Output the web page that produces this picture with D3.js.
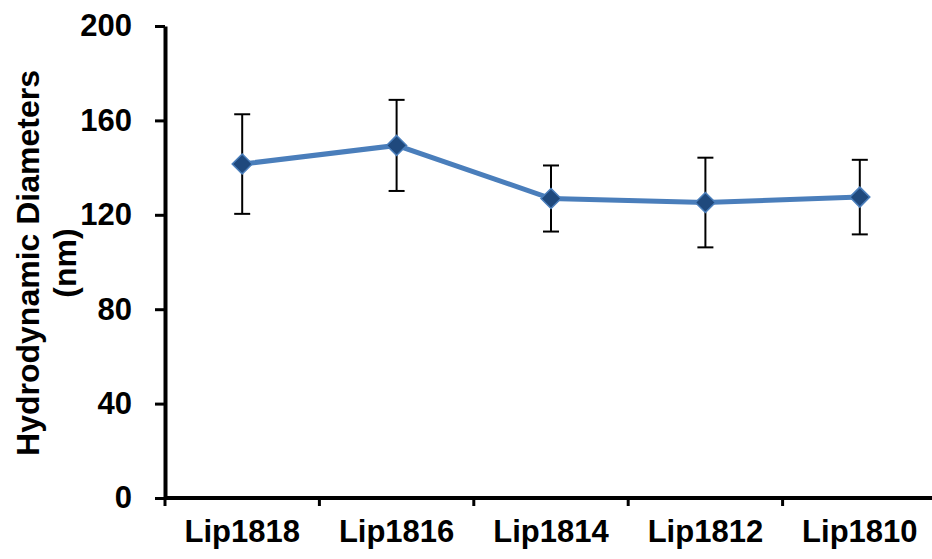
<!DOCTYPE html>
<html>
<head>
<meta charset="utf-8">
<script src="https://cdn.jsdelivr.net/npm/d3@7"></script>
<style>
  body { margin: 0; background: #fff; }
  svg { display: block; font-family: "Liberation Sans", Arial, sans-serif; }
</style>
</head>
<body>
<script>
const width = 932
const height = 559
const margin = ({top: 26, right: -5, bottom: 60, left: 165})

const categories = ["Lip1818", "Lip1816", "Lip1814", "Lip1812", "Lip1810"]
const means = [141.5, 149.4, 126.9, 125.2, 127.5]
const errors = [21.1, 19.3, 14.0, 19.0, 15.8]
const yTicks = [0, 40, 80, 120, 160, 200]

const lineColor = "#4a7ebb"
const markerFill = "#1f497d"

// scales
const x = d3.scaleBand()
    .domain(categories)
    .range([margin.left, width - margin.right])

const y = d3.scaleLinear()
    .domain([0, 200])
    .range([height - margin.bottom - 1, margin.top])

const cx = d => x(d) + x.bandwidth() / 2

const svg = d3.select("body").append("svg")
    .attr("width", width)
    .attr("height", height)

// x axis with ticks between categories
const xAxis = svg.append("g")
    .attr("transform", `translate(0,${y(0)})`)
    .call(d3.axisBottom(x).tickSize(0).tickPadding(22))
xAxis.select(".domain").attr("stroke-width", 4).attr("d", `M${margin.left},0H${width}`)
xAxis.selectAll("text")
    .attr("font-size", 31).attr("font-weight", "bold").attr("fill", "#000")

xAxis.selectAll(".sep")
    .data(categories)
    .join("line")
      .attr("class", "sep")
      .attr("x1", d => x(d)).attr("x2", d => x(d))
      .attr("y1", 0).attr("y2", 8)
      .attr("stroke", "#000").attr("stroke-width", 3)

// y axis
const yAxis = svg.append("g")
    .attr("transform", `translate(${margin.left},0)`)
    .call(d3.axisLeft(y).tickValues(yTicks).tickSize(10).tickSizeOuter(0).tickPadding(23))
yAxis.select(".domain").attr("stroke-width", 4)
yAxis.selectAll(".tick line").attr("stroke-width", 3)
yAxis.selectAll("text")
    .attr("font-size", 31).attr("font-weight", "bold").attr("fill", "#000")

// y axis title
const title = svg.append("text")
    .attr("transform", `translate(39,263) rotate(-90)`)
    .attr("text-anchor", "middle")
    .attr("font-size", 32)
    .attr("font-weight", "bold")
title.append("tspan").attr("x", 0).attr("dy", 0).text("Hydrodynamic Diameters")
title.append("tspan").attr("x", 0).attr("dy", 37).text("(nm)")

// error bars
const eb = svg.append("g").attr("stroke", "#000").attr("stroke-width", 2)
categories.forEach((c, i) => {
  const hi = y(means[i] + errors[i]), lo = y(means[i] - errors[i])
  eb.append("line").attr("x1", cx(c)).attr("x2", cx(c)).attr("y1", hi).attr("y2", lo)
  eb.append("line").attr("x1", cx(c) - 8).attr("x2", cx(c) + 8).attr("y1", hi).attr("y2", hi)
  eb.append("line").attr("x1", cx(c) - 8).attr("x2", cx(c) + 8).attr("y1", lo).attr("y2", lo)
})

// line
const line = d3.line()
    .x((d, i) => cx(categories[i]))
    .y(d => y(d))

svg.append("path")
    .datum(means)
    .attr("fill", "none")
    .attr("stroke", lineColor)
    .attr("stroke-width", 5)
    .attr("d", line)

// diamond markers
svg.append("g")
  .selectAll("path")
  .data(means)
  .join("path")
    .attr("transform", (d, i) => `translate(${cx(categories[i])},${y(d)})`)
    .attr("d", "M0,-10L10,0L0,10L-10,0Z")
    .attr("fill", markerFill)
    .attr("stroke", lineColor)
    .attr("stroke-width", 1.5)
</script>
</body>
</html>
